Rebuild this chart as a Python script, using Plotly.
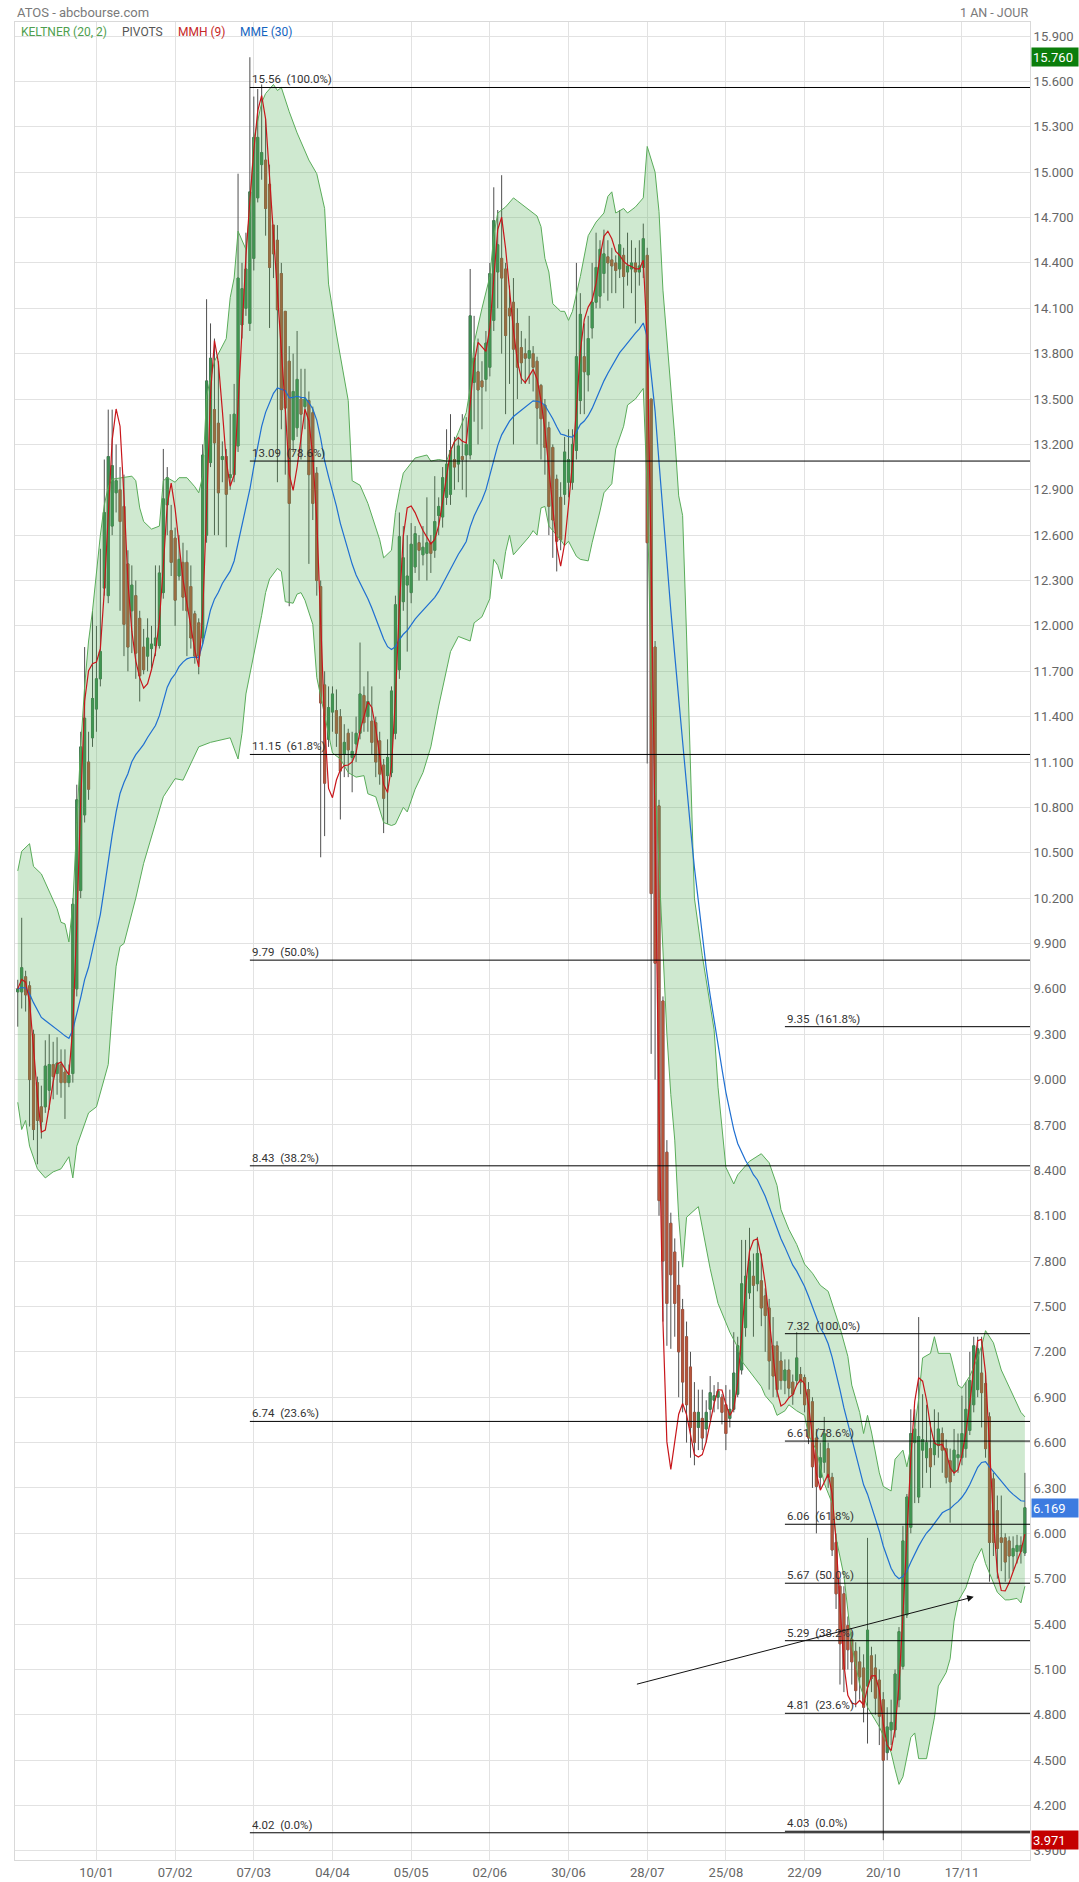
import pandas as pd
import plotly.graph_objects as go

# ---------------- data ----------------
OPEN = [
    9.58, 9.58, 9.68, 9.62, 9.30, 8.98, 8.82, 8.82, 8.93, 9.10,
    9.04, 9.10, 9.05, 8.98, 9.04, 9.60, 10.25, 10.75, 11.10, 11.26,
    11.45, 11.65, 12.25, 12.20, 12.66, 12.88, 12.90, 12.79, 12.41, 12.10,
    12.20, 12.05, 11.86, 11.80, 11.85, 11.87, 11.87, 12.22, 12.80, 12.63,
    12.58, 12.33, 12.42, 12.42, 12.26, 12.08, 12.02, 11.92, 12.60, 13.08,
    13.43, 13.34, 13.10, 13.12, 12.98, 13.00, 13.19, 13.99, 14.10, 14.00,
    14.43, 14.83, 15.05, 15.08, 14.92, 14.65, 14.55, 14.33, 14.08, 13.75,
    13.23, 13.31, 13.50, 13.45, 13.49, 13.41, 13.01, 12.26, 11.61, 11.25,
    11.43, 11.44, 11.40, 11.15, 11.29, 11.13, 11.22, 11.29, 11.54, 11.40,
    11.37, 11.36, 11.24, 11.08, 11.01, 11.03, 11.29, 11.71, 12.16, 12.27,
    12.22, 12.39, 12.55, 12.47, 12.48, 12.55, 12.50, 12.73, 12.72, 12.85,
    12.87, 13.10, 13.07, 13.12, 13.13, 13.13, 13.61, 13.68, 13.62, 13.63,
    13.71, 14.02, 14.34, 14.43, 14.36, 14.10, 14.14, 14.00, 13.84, 13.80,
    13.77, 13.80, 13.75, 13.59, 13.46, 13.31, 13.18, 12.97, 12.85, 12.87,
    12.95, 12.95, 13.16, 13.49, 13.78, 13.66, 13.97, 14.14, 14.18, 14.33,
    14.44, 14.42, 14.40, 14.36, 14.45, 14.34, 14.36, 14.40, 14.34, 14.37,
    14.45, 13.50, 11.86, 10.81, 9.52, 8.52, 8.05, 7.86, 7.64, 7.48,
    7.30, 7.10, 6.80, 6.70, 6.76, 6.69, 6.82, 6.88, 6.90, 6.90,
    6.85, 6.76, 6.82, 6.92, 7.08, 7.36, 7.59, 7.70, 7.65, 7.67,
    7.57, 7.49, 7.24, 7.24, 7.14, 7.01, 7.08, 7.00, 7.01, 7.05,
    7.03, 6.95, 6.87, 6.63, 6.37, 6.47, 6.56, 6.37, 5.94, 5.65,
    5.60, 5.39, 5.30, 5.22, 5.15, 5.11, 4.99, 5.19, 5.11, 5.03,
    4.90, 4.55, 4.70, 4.70, 4.90, 5.12, 5.46, 6.04, 6.60, 6.24,
    6.55, 6.50, 6.56, 6.52, 6.58, 6.66, 6.56, 6.48, 6.41, 6.50,
    6.50, 6.56, 6.68, 6.85, 6.95, 7.06, 6.99, 6.77, 6.36, 6.15,
    5.97, 5.97, 5.95, 5.85, 5.88, 5.88, 5.87,
]
HIGH = [
    9.66, 10.07, 9.72, 9.65, 9.33, 9.02, 8.96, 9.26, 9.30, 9.25,
    9.28, 9.20, 9.20, 9.10, 10.20, 10.95, 11.30, 11.86, 11.30, 12.10,
    12.00, 12.51, 13.10, 13.43, 13.43, 13.20, 13.05, 13.00, 12.50, 12.40,
    12.30, 12.10, 11.98, 12.05, 12.00, 12.40, 12.40, 13.17, 13.05, 12.80,
    12.65, 12.60, 12.55, 12.50, 12.40, 12.10, 12.05, 13.20, 14.16, 14.00,
    13.90, 13.75, 13.22, 13.17, 13.40, 13.60, 14.99, 14.40, 14.60, 15.76,
    15.50, 15.55, 15.58, 15.35, 15.05, 14.65, 14.65, 14.40, 14.08, 13.85,
    13.80, 13.95, 13.70, 13.70, 13.55, 13.45, 13.05, 12.30, 11.70, 11.60,
    11.60, 11.58, 11.45, 11.35, 11.32, 11.30, 11.40, 11.89, 11.60, 11.70,
    11.60, 11.40, 11.30, 11.12, 11.25, 11.60, 12.20, 12.75, 12.66, 12.60,
    12.68, 12.66, 12.60, 12.66, 12.85, 12.60, 12.99, 12.85, 13.05, 13.30,
    13.40, 13.25, 13.25, 13.40, 13.38, 14.36, 14.05, 13.90, 13.75, 13.95,
    14.40, 14.90, 14.75, 14.98, 14.40, 14.25, 14.30, 14.10, 13.95, 13.90,
    14.05, 13.85, 13.78, 13.60, 13.50, 13.35, 13.20, 13.00, 12.95, 13.25,
    13.30, 13.30, 14.40, 14.20, 14.00, 14.05, 14.40, 14.60, 14.55, 14.62,
    14.55, 14.50, 14.45, 14.75, 14.50, 14.60, 14.55, 14.50, 14.55, 14.66,
    14.50, 13.50, 11.90, 10.85, 9.55, 8.60, 8.12, 7.95, 7.80, 7.55,
    7.40, 7.20, 7.00, 6.95, 6.95, 6.88, 7.04, 6.98, 7.00, 6.92,
    6.98, 6.95, 7.33, 7.30, 7.94, 7.94, 8.02, 7.85, 7.96, 7.85,
    7.62, 7.55, 7.43, 7.27, 7.20, 7.15, 7.15, 7.05, 7.33, 7.10,
    7.05, 7.00, 6.90, 6.69, 6.60, 6.77, 6.60, 6.40, 6.00, 5.70,
    5.65, 5.45, 5.35, 5.28, 5.25, 5.20, 5.97, 5.25, 5.20, 5.10,
    4.95, 4.85, 4.90, 5.10, 5.38, 6.05, 6.26, 6.82, 6.82, 7.43,
    6.92, 6.85, 6.74, 6.82, 6.80, 6.70, 6.62, 6.56, 6.69, 6.66,
    6.91, 7.00, 7.20, 7.30, 7.30, 7.30, 7.05, 6.80, 6.40, 6.25,
    6.25, 6.00, 5.98, 5.98, 5.99, 5.98, 6.40,
]
LOW = [
    9.35, 9.47, 9.45, 8.69, 8.60, 8.44, 8.61, 8.78, 8.80, 8.87,
    8.90, 8.88, 8.74, 8.95, 8.98, 9.55, 10.20, 10.70, 10.85, 11.20,
    11.30, 11.60, 12.20, 12.15, 12.60, 12.75, 12.10, 11.80, 11.70, 11.82,
    11.65, 11.50, 11.68, 11.70, 11.72, 11.80, 11.85, 12.18, 12.60, 12.33,
    12.00, 12.30, 12.10, 11.80, 11.85, 11.75, 11.68, 11.88, 12.55, 13.05,
    12.60, 12.60, 12.95, 12.52, 12.90, 12.95, 13.15, 13.90, 14.05, 13.95,
    14.35, 14.80, 14.95, 14.58, 13.97, 14.30, 12.95, 13.30, 13.00, 12.13,
    13.15, 13.25, 13.10, 13.30, 12.41, 12.70, 12.20, 10.47, 10.61, 11.20,
    11.30, 11.20, 10.72, 11.00, 11.00, 10.90, 11.10, 11.25, 11.30, 11.30,
    11.15, 11.00, 10.95, 10.63, 10.69, 11.00, 11.25, 11.65, 12.10, 11.83,
    12.15, 12.35, 12.30, 12.40, 12.30, 12.35, 12.45, 12.60, 12.65, 12.80,
    12.80, 12.90, 12.95, 12.90, 12.85, 13.10, 13.35, 13.20, 13.30, 13.55,
    13.65, 13.95, 14.10, 13.80, 13.40, 13.60, 13.20, 13.50, 13.60, 13.60,
    13.60, 13.55, 13.20, 13.10, 13.00, 12.60, 12.45, 12.36, 12.50, 12.80,
    12.85, 12.90, 13.10, 13.40, 13.40, 13.55, 13.90, 14.10, 14.10, 14.20,
    14.15, 14.20, 14.20, 14.30, 14.10, 14.25, 14.20, 14.00, 14.25, 14.30,
    11.09, 9.17, 9.00, 8.10, 7.40, 7.24, 7.22, 7.30, 6.90, 6.80,
    6.60, 6.50, 6.45, 6.55, 6.55, 6.60, 6.75, 6.80, 6.82, 6.72,
    6.55, 6.70, 6.80, 6.90, 7.05, 7.30, 7.55, 7.30, 7.60, 7.37,
    7.20, 6.95, 6.90, 6.90, 6.95, 6.92, 6.90, 6.85, 6.98, 6.92,
    6.80, 6.59, 6.30, 6.00, 6.30, 6.40, 6.30, 5.85, 5.50, 5.00,
    4.95, 5.10, 5.00, 4.85, 4.90, 4.75, 4.61, 4.95, 4.80, 4.60,
    3.971, 4.50, 4.60, 4.65, 4.85, 5.10, 5.44, 6.00, 6.20, 6.20,
    6.30, 6.40, 6.30, 6.45, 6.50, 6.40, 6.33, 6.07, 6.38, 6.40,
    6.45, 6.50, 6.65, 6.80, 6.90, 6.70, 6.50, 5.68, 5.85, 5.70,
    5.75, 5.68, 5.70, 5.75, 5.80, 5.80, 5.85,
]
CLOSE = [
    9.60, 9.74, 9.56, 9.00, 8.67, 8.73, 8.72, 9.09, 9.10, 9.02,
    9.11, 8.98, 8.98, 9.03, 10.16, 10.85, 11.20, 11.39, 10.92, 11.52,
    11.65, 11.83, 12.75, 13.12, 13.06, 12.96, 12.69, 12.01, 11.86, 12.27,
    11.82, 11.67, 11.71, 11.92, 11.88, 11.92, 12.35, 12.84, 12.98, 12.42,
    12.17, 12.44, 12.19, 12.10, 11.92, 11.80, 11.80, 13.13, 13.62, 13.77,
    13.21, 12.88, 13.12, 12.87, 13.00, 13.40, 14.30, 14.23, 14.36, 14.87,
    15.23, 15.23, 15.13, 14.76, 14.37, 14.46, 14.09, 13.43, 13.44, 12.81,
    13.55, 13.63, 13.40, 13.50, 13.00, 12.81, 12.30, 11.49, 10.96, 11.46,
    11.55, 11.29, 11.04, 11.23, 11.18, 11.17, 11.29, 11.55, 11.36, 11.50,
    11.23, 11.10, 11.02, 10.86, 11.13, 11.57, 12.14, 12.59, 12.45, 12.33,
    12.54, 12.61, 12.50, 12.52, 12.55, 12.48, 12.69, 12.79, 12.98, 13.07,
    13.16, 13.05, 13.19, 13.10, 13.20, 14.05, 13.77, 13.56, 13.58, 13.87,
    14.33, 14.68, 14.52, 14.30, 13.92, 14.05, 13.83, 13.71, 13.74, 13.77,
    13.82, 13.71, 13.44, 13.37, 13.18, 12.79, 12.70, 12.56, 12.57, 13.15,
    13.10, 13.20, 13.78, 14.06, 13.68, 13.90, 14.14, 14.37, 14.49, 14.46,
    14.40, 14.38, 14.35, 14.52, 14.31, 14.38, 14.40, 14.34, 14.38, 14.56,
    12.55, 10.23, 9.77, 8.20, 7.80, 7.52, 7.71, 7.52, 7.20, 7.00,
    6.85, 6.70, 6.60, 6.80, 6.63, 6.80, 6.93, 6.91, 6.94, 6.80,
    6.66, 6.82, 7.06, 7.24, 7.65, 7.70, 7.80, 7.64, 7.85, 7.49,
    7.44, 7.14, 7.04, 6.95, 7.01, 7.08, 6.96, 6.92, 7.16, 7.00,
    6.85, 6.63, 6.44, 6.31, 6.50, 6.66, 6.37, 5.89, 5.60, 5.27,
    5.10, 5.23, 5.15, 4.96, 5.05, 4.85, 5.36, 5.04, 4.91, 4.79,
    4.50, 4.72, 4.75, 5.07, 5.35, 5.95, 6.24, 6.66, 6.69, 6.64,
    6.62, 6.60, 6.44, 6.60, 6.69, 6.55, 6.37, 6.34, 6.55, 6.52,
    6.66, 6.82, 7.01, 7.24, 7.22, 6.93, 6.56, 5.94, 5.94, 5.90,
    5.94, 5.81, 5.85, 5.90, 5.92, 5.92, 6.169,
]

# Keltner channel (20, 2): session index -> band value
KUP_IDX = [0, 1, 3, 4, 6, 8, 10, 11, 12, 13, 14, 15, 16, 17, 18, 19, 20, 21, 22, 23,
           24, 26, 29, 30, 31, 32, 34, 36, 37, 38, 40, 41, 43, 45, 46, 47, 48, 50, 53, 54,
           55, 56, 58, 59, 60, 62, 63, 65, 66, 67, 69, 71, 74, 76, 78, 79, 81, 84, 85, 87,
           89, 92, 93, 95, 96, 97, 98, 101, 104, 105, 107, 109, 110, 112, 114, 115, 116, 118, 120, 121,
           122, 124, 126, 127, 129, 132, 133, 134, 135, 136, 138, 139, 140, 141, 143, 145, 147, 149, 150, 151,
           152, 154, 155, 157, 159, 160, 162, 163, 164, 165, 166, 167, 168, 169, 170, 171, 172, 174, 177, 178,
           180, 182, 183, 186, 188, 189, 191, 193, 194, 196, 198, 199, 200, 202, 204, 206, 207, 209, 211, 212,
           214, 215, 216, 217, 219, 220, 222, 223, 225, 226, 228, 229, 230, 232, 233, 234, 237, 238, 239, 240,
           242, 244, 245, 246, 248, 250, 253, 255, 256]
KUP_VAL = [10.38, 10.51, 10.56, 10.41, 10.36, 10.25, 10.13, 10.04, 10.03, 9.91, 10.16, 10.70, 11.20, 11.60, 11.90, 12.10, 12.35, 12.60, 12.80, 12.92,
           12.97, 12.98, 12.99, 12.96, 12.78, 12.69, 12.64, 12.66, 12.96, 12.98, 12.95, 12.98, 12.98, 12.92, 12.88, 12.99, 13.52, 13.75, 13.90, 14.17,
           14.30, 14.61, 14.49, 14.75, 15.22, 15.46, 15.52, 15.58, 15.54, 15.56, 15.40, 15.26, 15.08, 14.99, 14.76, 14.26, 13.93, 13.49, 12.96, 12.93,
           12.81, 12.57, 12.45, 12.50, 12.75, 12.89, 13.01, 13.11, 13.13, 13.09, 13.10, 13.09, 13.16, 13.28, 13.41, 13.57, 13.87, 14.10, 14.31, 14.58,
           14.73, 14.77, 14.83, 14.81, 14.77, 14.71, 14.64, 14.43, 14.34, 14.13, 14.08, 14.08, 14.02, 14.08, 14.31, 14.58, 14.67, 14.73, 14.84, 14.87,
           14.73, 14.76, 14.73, 14.77, 14.83, 15.17, 15.00, 14.74, 14.22, 13.90, 13.60, 13.25, 12.86, 12.73, 11.94, 11.10, 10.20, 9.82, 9.33, 8.95,
           8.42, 8.31, 8.37, 8.46, 8.49, 8.51, 8.45, 8.30, 8.14, 8.01, 7.91, 7.85, 7.78, 7.72, 7.64, 7.60, 7.52, 7.36, 7.17, 6.98,
           6.80, 6.66, 6.78, 6.67, 6.40, 6.31, 6.28, 6.49, 6.55, 6.44, 6.70, 6.89, 7.16, 7.19, 7.30, 7.19, 7.19, 7.08, 6.98, 6.96,
           7.04, 7.16, 7.24, 7.34, 7.26, 7.08, 6.91, 6.80, 6.77]
KDN_IDX = [0, 1, 2, 3, 5, 7, 9, 11, 13, 14, 15, 18, 20, 22, 23, 24, 25, 26, 27, 30,
           32, 37, 40, 42, 46, 49, 54, 56, 57, 58, 60, 62, 63, 64, 66, 67, 68, 70, 71, 72,
           73, 75, 76, 78, 80, 82, 84, 86, 88, 89, 91, 93, 95, 96, 98, 99, 101, 103, 105, 107,
           110, 112, 115, 116, 118, 120, 121, 122, 123, 124, 125, 126, 128, 130, 131, 132, 133, 134, 135, 137,
           138, 139, 140, 142, 143, 145, 146, 148, 149, 151, 152, 154, 155, 157, 159, 160, 161, 162, 164, 165,
           166, 167, 168, 169, 170, 173, 176, 178, 181, 183, 184, 187, 189, 190, 192, 193, 195, 196, 198, 200,
           201, 203, 205, 207, 208, 210, 211, 212, 214, 216, 219, 221, 222, 223, 224, 225, 227, 228, 229, 231,
           232, 233, 234, 236, 237, 238, 239, 241, 243, 244, 245, 246, 248, 249, 251, 252, 254, 255, 256]
KDN_VAL = [8.85, 8.67, 8.73, 8.56, 8.41, 8.35, 8.39, 8.41, 8.49, 8.35, 8.56, 8.78, 8.82, 9.00, 9.10, 9.45, 9.75, 9.88, 9.90, 10.20,
           10.43, 10.87, 10.99, 10.98, 11.20, 11.23, 11.26, 11.12, 11.29, 11.55, 11.80, 12.07, 12.22, 12.31, 12.38, 12.36, 12.16, 12.15, 12.21, 12.22,
           12.17, 12.01, 11.66, 11.40, 11.16, 11.12, 11.03, 11.00, 11.01, 10.89, 10.87, 10.70, 10.68, 10.69, 10.80, 10.77, 10.92, 11.03, 11.20, 11.47,
           11.83, 11.93, 11.90, 12.02, 12.06, 12.18, 12.44, 12.40, 12.31, 12.49, 12.60, 12.47, 12.53, 12.59, 12.63, 12.60, 12.78, 12.79, 12.66, 12.60,
           12.57, 12.53, 12.56, 12.46, 12.44, 12.43, 12.55, 12.76, 12.88, 12.94, 13.17, 13.32, 13.46, 13.50, 13.57, 12.90, 11.60, 10.97, 9.87, 9.30,
           8.90, 8.60, 8.09, 7.76, 8.09, 8.16, 7.75, 7.52, 7.33, 7.23, 7.14, 7.04, 6.97, 6.91, 6.85, 6.78, 6.81, 6.85, 6.81, 6.78,
           6.65, 6.55, 6.33, 6.20, 5.97, 5.72, 5.49, 5.26, 5.00, 4.85, 4.72, 4.61, 4.55, 4.44, 4.34, 4.39, 4.65, 4.68, 4.51, 4.51,
           4.65, 4.78, 4.99, 5.08, 5.17, 5.42, 5.55, 5.64, 5.80, 5.85, 5.90, 5.80, 5.67, 5.61, 5.56, 5.56, 5.57, 5.54, 5.65]

# trading calendar (Euronext), first and last session of the chart
FIRST_DAY, LAST_DAY = "2022-12-12", "2023-12-11"
HOLIDAYS = ["2022-12-26", "2023-04-07", "2023-04-10", "2023-05-01"]
TICK_LABELS = ["10/01", "07/02", "07/03", "04/04", "05/05", "02/06",
               "30/06", "28/07", "25/08", "22/09", "20/10", "17/11"]
Y_TICKS = [round(3.9 + 0.3 * k, 1) for k in range(41)]

# Fibonacci retracements drawn on the chart
FIB_LEFT_START = "2023-03-06"
FIB_LEFT_LEVELS = [15.56, 13.09, 11.15, 9.79, 8.43, 6.74, 4.02]
FIB_LEFT_PCT = [100.0, 78.6, 61.8, 50.0, 38.2, 23.6, 0.0]
FIB_RIGHT_START = "2023-09-15"
FIB_RIGHT_LEVELS = [9.35, 7.32, 6.61, 6.06, 5.67, 5.29, 4.81, 4.03]
FIB_RIGHT_PCT = [161.8, 100.0, 78.6, 61.8, 50.0, 38.2, 23.6, 0.0]

# hand-drawn arrow (date, price) -> (date, price)
ARROW_FROM = ("2023-07-25", 5.00)
ARROW_TO = ("2023-11-22", 5.58)

# price tags on the right axis
TAGS = [(15.760, "15.760", "#0b7d0b"), (6.169, "6.169", "#3c7be0"), (3.971, "3.971", "#c40000")]

# ---------------- dates ----------------
days = pd.bdate_range(FIRST_DAY, LAST_DAY)
days = days[~days.isin(pd.to_datetime(HOLIDAYS))]
DATES = [d.strftime("%Y-%m-%d") for d in days][: len(CLOSE)]
n = len(CLOSE)
tickvals = [d for d in DATES if pd.Timestamp(d).strftime("%d/%m") in TICK_LABELS]
ticktext = [pd.Timestamp(d).strftime("%d/%m") for d in tickvals]

# ---------------- moving averages ----------------
def ema(vals, p):
    a = 2.0 / (p + 1)
    out = [vals[0]]
    for v in vals[1:]:
        out.append(out[-1] + a * (v - out[-1]))
    return out

def wma(vals, p):
    out = []
    for i in range(len(vals)):
        w = vals[max(0, i - p + 1): i + 1]
        ws = list(range(1, len(w) + 1))
        out.append(sum(a * b for a, b in zip(w, ws)) / sum(ws))
    return out

def hull(vals, p):
    half = wma(vals, p // 2)
    full = wma(vals, p)
    raw = [2 * h - f for h, f in zip(half, full)]
    return wma(raw, int(p ** 0.5))

mme = ema(CLOSE, 30)
mmh = hull(CLOSE, 9)

# ---------------- figure ----------------
GREEN, RED, WICK = "#3d8d52", "#b7553c", "#4f4f4f"
K_LINE, K_FILL = "#5aac5a", "rgba(76,175,80,0.27)"
X_RANGE = [-0.7, n + 0.3]
Y_RANGE = [3.84, 15.993]
FONT = "Roboto, 'Open Sans', sans-serif"

fig = go.Figure()
fig.add_trace(go.Scatter(x=[DATES[i] for i in KUP_IDX], y=KUP_VAL, mode="lines",
                         line=dict(color=K_LINE, width=1), hoverinfo="skip", showlegend=False))
fig.add_trace(go.Scatter(x=[DATES[i] for i in KDN_IDX], y=KDN_VAL, mode="lines",
                         line=dict(color=K_LINE, width=1), fill="tonexty", fillcolor=K_FILL,
                         hoverinfo="skip", showlegend=False))
# wicks (grey) then coloured bodies
fig.add_trace(go.Candlestick(x=DATES, open=OPEN, high=HIGH, low=LOW, close=CLOSE,
                             increasing=dict(line=dict(color=WICK, width=1), fillcolor=WICK),
                             decreasing=dict(line=dict(color=WICK, width=1), fillcolor=WICK),
                             whiskerwidth=0, hoverinfo="skip", showlegend=False))
body_hi = [max(o, c) for o, c in zip(OPEN, CLOSE)]
body_lo = [min(o, c) for o, c in zip(OPEN, CLOSE)]
fig.add_trace(go.Candlestick(x=DATES, open=OPEN, high=body_hi, low=body_lo, close=CLOSE,
                             increasing=dict(line=dict(color=GREEN, width=0.6), fillcolor=GREEN),
                             decreasing=dict(line=dict(color=RED, width=0.6), fillcolor=RED),
                             whiskerwidth=0, showlegend=False))
fig.add_trace(go.Scatter(x=DATES, y=mme, mode="lines", line=dict(color="#1f6fd1", width=1.2),
                         hoverinfo="skip", showlegend=False))
fig.add_trace(go.Scatter(x=DATES, y=mmh, mode="lines", line=dict(color="#c8161b", width=1.2),
                         hoverinfo="skip", showlegend=False))

shapes, annotations = [], []
for start, levels, pcts in [(FIB_LEFT_START, FIB_LEFT_LEVELS, FIB_LEFT_PCT),
                            (FIB_RIGHT_START, FIB_RIGHT_LEVELS, FIB_RIGHT_PCT)]:
    x0 = DATES.index(start)
    for lv, pc in zip(levels, pcts):
        shapes.append(dict(type="line", xref="x", yref="y", x0=x0, x1=X_RANGE[1], y0=lv, y1=lv,
                           line=dict(color="#000000", width=1), layer="above"))
        annotations.append(dict(x=x0, y=lv, xref="x", yref="y", text=f"{lv:.2f}  ({pc:.1f}%)",
                                showarrow=False, xanchor="left", yanchor="bottom", yshift=-1,
                                font=dict(family=FONT, size=11.5, color="#333333")))

annotations.append(dict(x=ARROW_TO[0], y=ARROW_TO[1], ax=ARROW_FROM[0], ay=ARROW_FROM[1],
                        xref="x", yref="y", axref="x", ayref="y", text="", showarrow=True,
                        arrowhead=2, arrowsize=1.3, arrowwidth=1, arrowcolor="#111111"))

for val, txt, col in TAGS:
    annotations.append(dict(x=1, y=val, xref="paper", yref="y", text=txt, showarrow=False,
                            xanchor="left", yanchor="middle", xshift=1, bgcolor=col,
                            width=44, height=16, align="left",
                            font=dict(family=FONT, size=13, color="white")))

legend_items = [("KELTNER (20, 2)", "#4f9f4f", 0.0035), ("PIVOTS", "#555555", 0.103),
                ("MMH (9)", "#c62828", 0.159), ("MME (30)", "#1565c0", 0.22)]
for txt, col, xp in legend_items:
    annotations.append(dict(x=xp, y=0.9995, xref="paper", yref="paper", text=txt, showarrow=False,
                            xanchor="left", yanchor="top", font=dict(family=FONT, size=12, color=col)))

annotations.append(dict(x=0, y=1, xref="paper", yref="paper", text="ATOS - abcbourse.com",
                        showarrow=False, xanchor="left", yanchor="bottom", yshift=0,
                        font=dict(family=FONT, size=13, color="#7a7a7a")))
annotations.append(dict(x=1, y=1, xref="paper", yref="paper", text="1 AN - JOUR",
                        showarrow=False, xanchor="right", yanchor="bottom", yshift=0,
                        font=dict(family=FONT, size=12.5, color="#7a7a7a")))

fig.update_layout(
    width=1079, height=1882,
    margin=dict(l=15, r=49, t=22, b=22, autoexpand=False),
    paper_bgcolor="white", plot_bgcolor="white",
    showlegend=False, boxgap=0.25,
    shapes=shapes, annotations=annotations,
    font=dict(family=FONT),
    xaxis=dict(type="category", categoryorder="array", categoryarray=DATES,
               range=X_RANGE, tickvals=tickvals, ticktext=ticktext, automargin=False,
               showgrid=True, gridcolor="#e2e2e2", gridwidth=1, showline=True, linecolor="#d9d9d9",
               mirror=True, ticks="", tickfont=dict(size=13, color="#666666"),
               rangeslider=dict(visible=False), zeroline=False),
    yaxis=dict(side="right", range=Y_RANGE, tickvals=Y_TICKS, ticktext=[f"{v:.3f}" for v in Y_TICKS],
               automargin=False,
               showgrid=True, gridcolor="#e2e2e2", gridwidth=1, showline=True, linecolor="#d9d9d9",
               mirror=True, ticks="", tickfont=dict(size=13, color="#666666"), zeroline=False),
)

fig.write_html("out.html", config={"displayModeBar": False},
               post_script="document.body.style.margin='0';document.body.style.overflow='hidden';")
